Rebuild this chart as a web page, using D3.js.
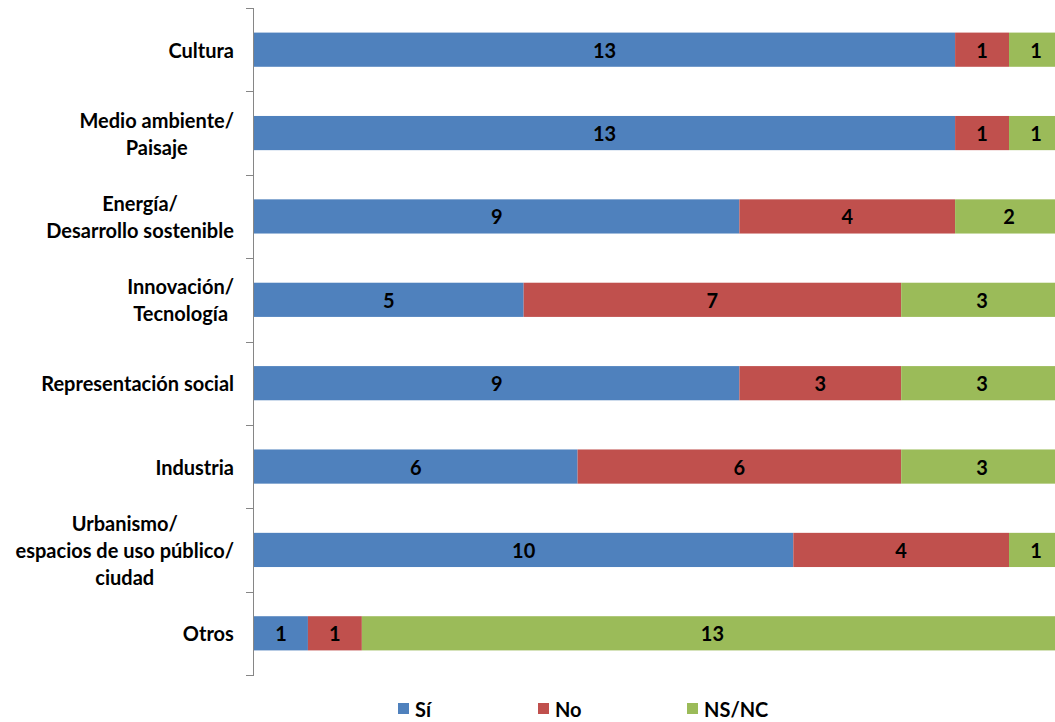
<!DOCTYPE html>
<html><head><meta charset="utf-8">
<script src="https://cdn.jsdelivr.net/npm/d3@7"></script>
<style>body{margin:0;background:#fff;} svg{display:block;font-family:Lato, "Open Sans", sans-serif;font-weight:bold;}</style>
</head><body>
<script>
const categories = [
  ["Cultura"],
  ["Medio ambiente/", "Paisaje"],
  ["Energía/", "Desarrollo sostenible"],
  ["Innovación/", "Tecnología"],
  ["Representación social"],
  ["Industria"],
  ["Urbanismo/", "espacios de uso público/", "ciudad"],
  ["Otros"]
];
const seriesNames = ["Sí", "No", "NS/NC"];
const si   = [13, 13, 9, 5, 9, 6, 10, 1];
const no   = [1, 1, 4, 7, 3, 6, 4, 1];
const nsnc = [1, 1, 2, 3, 3, 3, 1, 13];
const colors = ["#4F81BD", "#C0504D", "#9BBB59"];

const W = 1055, H = 722;
const FS = 20;
const svg = d3.select("body").append("svg").attr("width", W).attr("height", H);
const x0 = 254, plotTop = 8, plotBottom = 675;
const x = d3.scaleLinear().domain([0, 15]).range([x0, x0 + 15 * 53.93]);
const y = d3.scaleBand().domain(d3.range(categories.length)).range([plotTop, plotBottom]).paddingInner(0.59).paddingOuter(0.295);

const rows = categories.map((c, i) => ({i, vals: [si[i], no[i], nsnc[i]]}));
const stackData = rows.map(r => { const o = {i: r.i}; seriesNames.forEach((s, k) => o[s] = r.vals[k]); return o; });
const stacked = d3.stack().keys(seriesNames)(stackData);

const g = svg.append("g");
stacked.forEach((layer, k) => {
  const lg = g.append("g");
  lg.selectAll("rect").data(layer).join("rect")
    .attr("x", d => x(d[0])).attr("width", d => x(d[1]) - x(d[0]))
    .attr("y", d => y(d.data.i)).attr("height", y.bandwidth())
    .attr("fill", colors[k]);
  lg.selectAll("text").data(layer).join("text")
    .attr("x", d => (x(d[0]) + x(d[1])) / 2)
    .attr("y", d => y(d.data.i) + y.bandwidth() / 2)
    .attr("text-anchor", "middle").attr("dominant-baseline", "central")
    .attr("font-size", FS).attr("fill", "#000")
    .text(d => d[1] - d[0]);
});

// axis
const band = (plotBottom - plotTop) / categories.length;
svg.append("line").attr("x1", x0 - 0.5).attr("x2", x0 - 0.5).attr("y1", plotTop).attr("y2", plotBottom)
  .attr("stroke", "#868686").attr("stroke-width", 1);
d3.range(categories.length + 1).forEach(j => {
  const yy = Math.round(plotTop + j * band) + 0.5;
  svg.append("line").attr("x1", x0 - 8).attr("x2", x0).attr("y1", yy).attr("y2", yy)
    .attr("stroke", "#868686").attr("stroke-width", 1);
});

// category labels
const lineH = 27;
categories.forEach((lines, i) => {
  const cy = y(i) + y.bandwidth() / 2;
  const t = svg.append("text").attr("font-size", FS).attr("fill", "#000").attr("text-anchor", "middle");
  lines.forEach((ln, j) => {
    t.append("tspan").attr("x", 0).attr("y", cy + (j - (lines.length - 1) / 2) * lineH)
      .attr("dominant-baseline", "central").text(ln);
  });
  const bb = t.node().getBBox();
  t.attr("transform", `translate(${234 - bb.width / 2},0)`);
});

// legend
const legX = [398, 538, 687];
seriesNames.forEach((s, k) => {
  svg.append("rect").attr("x", legX[k]).attr("y", 703).attr("width", 11).attr("height", 11).attr("fill", colors[k]);
  svg.append("text").attr("x", legX[k] + 17).attr("y", 709).attr("dominant-baseline", "central")
    .attr("font-size", FS).attr("fill", "#000").text(s);
});
</script>
</body></html>
